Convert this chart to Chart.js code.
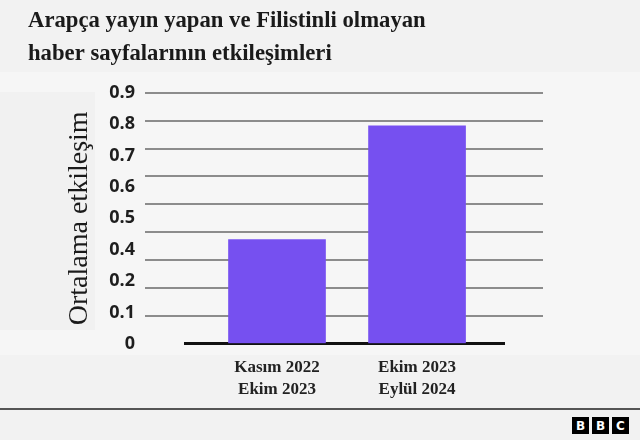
<!DOCTYPE html>
<html lang="tr">
<head>
<meta charset="utf-8">
<title>Arapça yayın yapan ve Filistinli olmayan haber sayfalarının etkileşimleri</title>
<script src="https://cdn.jsdelivr.net/npm/chart.js@4"></script>
<style>
    html, body { margin: 0; padding: 0; }
    body { width: 640px; height: 440px; background: #f2f2f2; position: relative; overflow: hidden; }
    #panel { position: absolute; left: 0; top: 72px; width: 640px; height: 283px; background: #f6f6f6; }
    #panel-izq { position: absolute; left: 0; top: 92px; width: 95px; height: 238px; background: #f1f1f1; }
    #linea-pie { position: absolute; left: 0; top: 408px; width: 640px; height: 2px; background: #555; }
    #logo { position: absolute; left: 572px; top: 417px; display: flex; gap: 3px; }
    #logo span { width: 17px; height: 17px; background: #000; color: #fff; font: bold 12px "DejaVu Sans", sans-serif; display: flex; align-items: center; justify-content: center; }
    #myChart { position: absolute; left: 0; top: 0; }
</style>
</head>
<body>
<div id="panel"></div>
<div id="panel-izq"></div>
<div id="linea-pie"></div>
<div id="logo"><span>B</span><span>B</span><span>C</span></div>
<canvas id="myChart" width="640" height="440"></canvas>
<script>
// datos
const categorias = [['Kasım 2022', 'Ekim 2023'], ['Ekim 2023', 'Eylül 2024']];
const valores = [0.374, 0.782];
// etiquetas del eje tal como aparecen (falta 0.3 en el original)
const etiquetasY = ['0', '0.1', '0.2', '0.4', '0.5', '0.6', '0.7', '0.8', '0.9'];

const titulo = ['Arapça yayın yapan ve Filistinli olmayan', 'haber sayfalarının etkileşimleri'];
const tituloEje = 'Ortalama etkileşim';

document.addEventListener("DOMContentLoaded", function() {
    const ctx = document.getElementById('myChart').getContext('2d');

    // la línea del cero se pinta con el borde del eje x
    const colorGrid = (c) => c.tick && c.tick.value === 0 ? 'rgba(0,0,0,0)' : '#8c8c8c';

    new Chart(ctx, {
        type: 'bar',
        data: {
            datasets: [{
                data: valores.map((v, i) => ({ x: i, y: v })),
                backgroundColor: '#7650f0',
                borderWidth: 0,
                barThickness: 97
            }]
        },
        options: {
            responsive: false,
            animation: false,
            layout: {
                padding: { left: 28, right: 97, top: 0, bottom: 26 }
            },
            plugins: {
                legend: { display: false },
                tooltip: { enabled: false },
                title: {
                    display: true,
                    text: titulo,
                    align: 'start',
                    color: '#1a1a1a',
                    font: { family: 'Liberation Serif', size: 22.7, weight: 'bold', lineHeight: 1.45 },
                    padding: { top: 5, bottom: 22 }
                }
            },
            scales: {
                x: {
                    type: 'linear',
                    position: 'bottom',
                    offset: false,
                    min: -0.657,
                    max: 1.621,
                    grid: { display: false, drawTicks: false, offset: false },
                    border: { display: true, color: '#111', width: 3 },
                    ticks: {
                        stepSize: 1,
                        includeBounds: false,
                        autoSkip: false,
                        maxRotation: 0,
                        padding: 13,
                        color: '#222',
                        font: { family: 'Liberation Serif', size: 17, weight: 'bold', lineHeight: 1.3 },
                        callback: (v) => categorias[v] || ''
                    }
                },
                y: {
                    position: 'left',
                    min: 0,
                    max: 0.9,
                    weight: 0,
                    grid: { color: colorGrid, lineWidth: 2, tickLength: 40 },
                    border: { display: false },
                    ticks: { display: false, stepSize: 0.1 },
                    afterFit: (s) => { s.width = 40; }
                },
                yr: {
                    position: 'right',
                    min: 0,
                    max: 0.9,
                    grid: { color: colorGrid, lineWidth: 2, tickLength: 39, drawOnChartArea: false },
                    border: { display: false },
                    ticks: { display: false, stepSize: 0.1 },
                    afterFit: (s) => { s.width = 39; }
                },
                yl: {
                    type: 'linear',
                    position: 'left',
                    weight: 10,
                    min: 0,
                    max: etiquetasY.length - 1,
                    grid: { display: false, drawTicks: false },
                    border: { display: false },
                    ticks: {
                        stepSize: 1,
                        padding: 10,
                        color: '#1e1e1e',
                        font: { family: 'Open Sans', size: 18, weight: 'bold' },
                        callback: (v) => etiquetasY[v]
                    },
                    title: {
                        display: true,
                        text: tituloEje,
                        color: '#1a1a1a',
                        font: { family: 'Liberation Serif', size: 28 },
                        padding: { top: 35, bottom: 15 }
                    },
                    afterFit: (s) => { s.width = 117; }
                }
            }
        }
    });
});
</script>
</body>
</html>
